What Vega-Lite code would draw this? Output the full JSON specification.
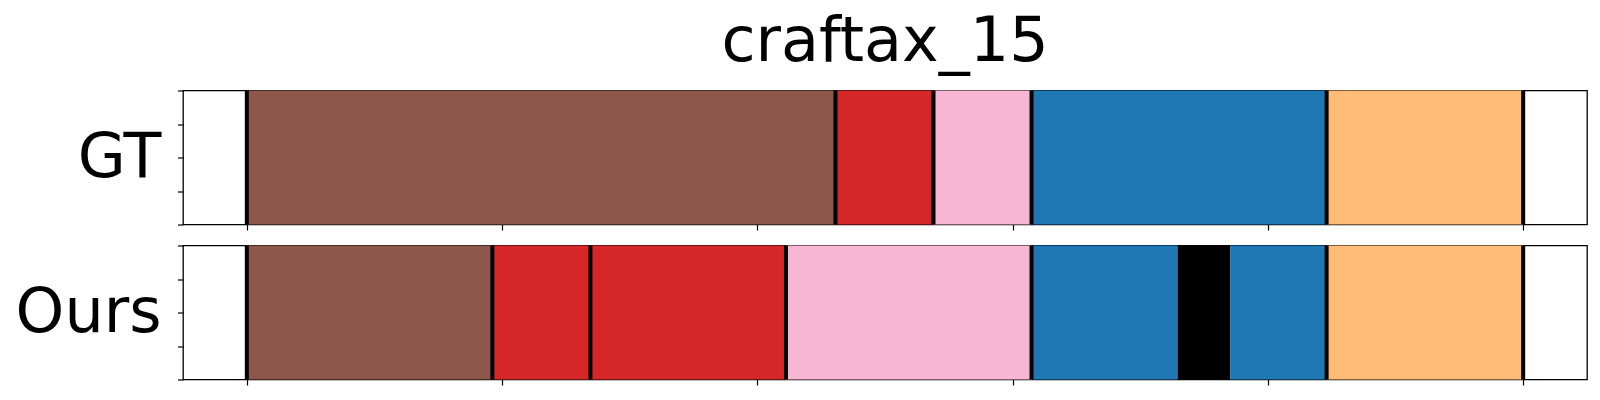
{
  "$schema": "https://vega.github.io/schema/vega-lite/v6.json",
  "background": "white",
  "padding": {"left": 14, "top": 9.5, "right": 5, "bottom": 5},
  "spacing": 11,
  "config": {
    "font": "DejaVu Sans",
    "view": {"stroke": "black", "strokeWidth": 1.3},
    "axis": {"domain": false, "labels": false, "grid": false, "tickColor": "black", "tickSize": 5.5, "tickWidth": 1.2}
  },
  "datasets": {
    "segments": [
      {"panel": "GT", "start": 0, "end": 115.3, "skill": "s1"},
      {"panel": "GT", "start": 115.3, "end": 134.5, "skill": "s2"},
      {"panel": "GT", "start": 134.5, "end": 153.7, "skill": "s3"},
      {"panel": "GT", "start": 153.7, "end": 211.5, "skill": "s4"},
      {"panel": "GT", "start": 211.5, "end": 250, "skill": "s5"},
      {"panel": "Ours", "start": 0, "end": 48.1, "skill": "s1"},
      {"panel": "Ours", "start": 48.1, "end": 67.3, "skill": "s2"},
      {"panel": "Ours", "start": 67.3, "end": 105.6, "skill": "s2"},
      {"panel": "Ours", "start": 105.6, "end": 153.7, "skill": "s3"},
      {"panel": "Ours", "start": 153.7, "end": 182.3, "skill": "s4"},
      {"panel": "Ours", "start": 182.3, "end": 192.6, "skill": "s6"},
      {"panel": "Ours", "start": 192.6, "end": 211.5, "skill": "s4"},
      {"panel": "Ours", "start": 211.5, "end": 250, "skill": "s5"}
    ],
    "bounds": [
      {"panel": "GT", "x": 0},
      {"panel": "GT", "x": 115.3},
      {"panel": "GT", "x": 134.5},
      {"panel": "GT", "x": 153.7},
      {"panel": "GT", "x": 211.5},
      {"panel": "GT", "x": 250},
      {"panel": "Ours", "x": 0},
      {"panel": "Ours", "x": 48.1},
      {"panel": "Ours", "x": 67.3},
      {"panel": "Ours", "x": 105.6},
      {"panel": "Ours", "x": 153.7},
      {"panel": "Ours", "x": 211.5},
      {"panel": "Ours", "x": 250}
    ]
  },
  "vconcat": [
    {
      "width": 1404,
      "height": 134,
      "title": {"text": "craftax_15", "fontSize": 62, "fontWeight": "normal", "anchor": "middle", "frame": "group", "color": "black", "offset": 15},
      "layer": [
        {
          "data": {"name": "segments"},
          "transform": [{"filter": "datum.panel === 'GT'"}],
          "mark": {"type": "bar", "strokeWidth": 0},
          "encoding": {
            "x": {"field": "start", "type": "quantitative", "scale": {"domain": [-12.5, 262.5], "nice": false, "zero": false}, "axis": {"values": [0, 50, 100, 150, 200, 250], "title": null}},
            "x2": {"field": "end"},
            "y": {"datum": 0, "type": "quantitative", "scale": {"domain": [0, 1], "nice": false}, "axis": {"values": [0, 0.25, 0.5, 0.75, 1], "title": "GT", "titleAngle": 0, "titleFontSize": 62, "titleFontWeight": "normal", "titleAlign": "right", "titleBaseline": "middle", "titleX": -22, "titleY": 67, "titleColor": "black"}},
            "y2": {"datum": 1},
            "color": {"field": "skill", "type": "nominal", "scale": {"domain": ["s1", "s2", "s3", "s4", "s5", "s6"], "range": ["#8c564b", "#d62728", "#f7b6d2", "#1f77b4", "#ffbb78", "#000000"]}, "legend": null}
          }
        },
        {
          "data": {"name": "bounds"},
          "transform": [{"filter": "datum.panel === 'GT'"}],
          "mark": {"type": "rule", "color": "black", "strokeWidth": 4},
          "encoding": {"x": {"field": "x", "type": "quantitative"}}
        }
      ]
    },
    {
      "width": 1404,
      "height": 134,
      "layer": [
        {
          "data": {"name": "segments"},
          "transform": [{"filter": "datum.panel === 'Ours'"}],
          "mark": {"type": "bar", "strokeWidth": 0},
          "encoding": {
            "x": {"field": "start", "type": "quantitative", "scale": {"domain": [-12.5, 262.5], "nice": false, "zero": false}, "axis": {"values": [0, 50, 100, 150, 200, 250], "title": null}},
            "x2": {"field": "end"},
            "y": {"datum": 0, "type": "quantitative", "scale": {"domain": [0, 1], "nice": false}, "axis": {"values": [0, 0.25, 0.5, 0.75, 1], "title": "Ours", "titleAngle": 0, "titleFontSize": 62, "titleFontWeight": "normal", "titleAlign": "right", "titleBaseline": "middle", "titleX": -22, "titleY": 67, "titleColor": "black"}},
            "y2": {"datum": 1},
            "color": {"field": "skill", "type": "nominal", "scale": {"domain": ["s1", "s2", "s3", "s4", "s5", "s6"], "range": ["#8c564b", "#d62728", "#f7b6d2", "#1f77b4", "#ffbb78", "#000000"]}, "legend": null}
          }
        },
        {
          "data": {"name": "bounds"},
          "transform": [{"filter": "datum.panel === 'Ours'"}],
          "mark": {"type": "rule", "color": "black", "strokeWidth": 4},
          "encoding": {"x": {"field": "x", "type": "quantitative"}}
        }
      ]
    }
  ]
}
